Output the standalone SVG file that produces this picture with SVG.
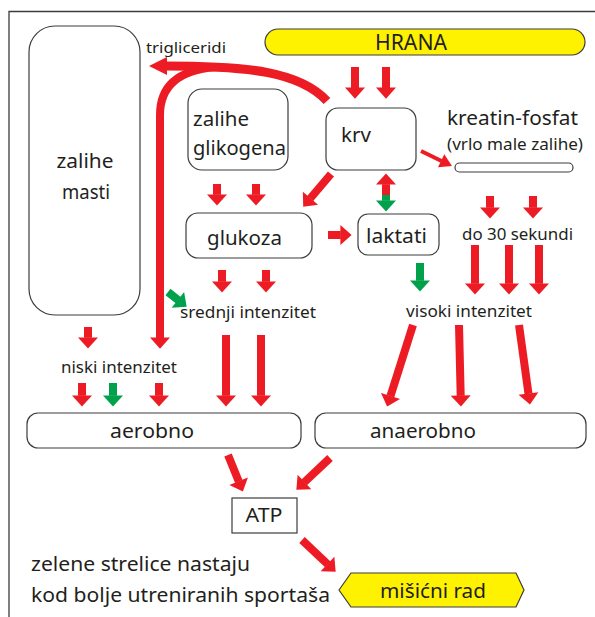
<svg xmlns="http://www.w3.org/2000/svg" width="595" height="617" viewBox="0 0 595 617">
  <style>
    text { font-family: "Noto Sans", "Open Sans", sans-serif; fill: #231f20; }
    .box { fill: #ffffff; stroke: #3c3c3c; stroke-width: 1.2; }
    .yel { fill: #fff200; stroke: #3c3c3c; stroke-width: 1.2; }
    .r { stroke: #ed1c24; fill: none; stroke-width: 8; marker-end: url(#rh); }
    .g { stroke: #00a14b; fill: none; stroke-width: 8; marker-end: url(#gh); }
    .mid { text-anchor: middle; }
  </style>
  <defs>
    <marker id="rh" markerUnits="strokeWidth" markerWidth="1.6" markerHeight="3" refX="0.05" refY="1.5" orient="auto" overflow="visible">
      <path d="M0,0.25 L1.4,1.5 L0,2.75 Z" fill="#ed1c24"/>
    </marker>
    <marker id="gh" markerUnits="strokeWidth" markerWidth="1.6" markerHeight="3" refX="0.05" refY="1.5" orient="auto" overflow="visible">
      <path d="M0,0.25 L1.4,1.5 L0,2.75 Z" fill="#00a14b"/>
    </marker>
    <marker id="rw" markerUnits="strokeWidth" markerWidth="4" markerHeight="4" refX="0.1" refY="2" orient="auto" overflow="visible">
      <path d="M0,0.2 L3,2 L0,3.8 Z" fill="#ed1c24"/>
    </marker>
  </defs>

  <!-- frame -->
  <path d="M9,617 L9,11.5 L595,11.5" fill="none" stroke="#3c3c3c" stroke-width="1.3"/>

  <!-- nodes -->
  <g id="zalihe-masti">
    <rect class="box" x="29" y="26" width="111" height="289" rx="26"/>
    <text class="mid" x="85" y="168" font-size="20" textLength="57" lengthAdjust="spacingAndGlyphs">zalihe</text>
    <text class="mid" x="86" y="199" font-size="20" textLength="48" lengthAdjust="spacingAndGlyphs">masti</text>
  </g>
  <g id="hrana">
    <rect class="yel" x="265" y="29" width="320" height="26" rx="13"/>
    <text class="mid" x="411" y="50" font-size="21" textLength="72" lengthAdjust="spacingAndGlyphs">HRANA</text>
  </g>
  <g id="zalihe-glikogena">
    <rect class="box" x="188" y="89" width="100" height="81" rx="14"/>
    <text x="193" y="126" font-size="20" textLength="56" lengthAdjust="spacingAndGlyphs">zalihe</text>
    <text x="193" y="155" font-size="20" textLength="93" lengthAdjust="spacingAndGlyphs">glikogena</text>
  </g>
  <g id="krv">
    <rect class="box" x="326" y="108" width="90" height="62" rx="12"/>
    <text x="341" y="142" font-size="20" textLength="30" lengthAdjust="spacingAndGlyphs">krv</text>
  </g>
  <g id="kreatin-fosfat">
    <text x="447" y="125" font-size="20" textLength="131" lengthAdjust="spacingAndGlyphs">kreatin-fosfat</text>
    <text x="447" y="150" font-size="16" textLength="136" lengthAdjust="spacingAndGlyphs">(vrlo male zalihe)</text>
    <rect class="box" x="455" y="163" width="118" height="9" rx="4.5"/>
  </g>
  <g id="glukoza">
    <rect class="box" x="186" y="213" width="126" height="45" rx="12"/>
    <text x="207" y="245" font-size="20" textLength="75" lengthAdjust="spacingAndGlyphs">glukoza</text>
  </g>
  <g id="laktati">
    <rect class="box" x="358" y="214" width="81" height="41" rx="10"/>
    <text x="366" y="243" font-size="20" textLength="61" lengthAdjust="spacingAndGlyphs">laktati</text>
  </g>
  <g id="do-30-sekundi">
    <text x="462" y="240" font-size="16.5" textLength="111" lengthAdjust="spacingAndGlyphs">do 30 sekundi</text>
  </g>
  <g id="srednji-intenzitet">
    <text x="180" y="318" font-size="16.5" textLength="136" lengthAdjust="spacingAndGlyphs">srednji intenzitet</text>
  </g>
  <g id="visoki-intenzitet">
    <text x="406" y="317" font-size="16.5" textLength="126" lengthAdjust="spacingAndGlyphs">visoki intenzitet</text>
  </g>
  <g id="niski-intenzitet">
    <text x="61" y="373" font-size="16.5" textLength="116" lengthAdjust="spacingAndGlyphs">niski intenzitet</text>
  </g>
  <g id="trigliceridi">
    <text x="146" y="53" font-size="15" textLength="80" lengthAdjust="spacingAndGlyphs">trigliceridi</text>
  </g>
  <g id="aerobno">
    <rect class="box" x="27" y="413" width="274" height="35" rx="11"/>
    <text class="mid" x="152" y="438" font-size="19.5" textLength="84" lengthAdjust="spacingAndGlyphs">aerobno</text>
  </g>
  <g id="anaerobno">
    <rect class="box" x="315" y="413" width="271" height="35" rx="11"/>
    <text class="mid" x="423" y="438" font-size="19.5" textLength="106" lengthAdjust="spacingAndGlyphs">anaerobno</text>
  </g>
  <g id="atp">
    <rect class="box" x="232" y="498" width="65" height="35"/>
    <text class="mid" x="264" y="522" font-size="19" textLength="37" lengthAdjust="spacingAndGlyphs">ATP</text>
  </g>
  <g id="misicni-rad">
    <polygon class="yel" points="339,590 351,573 516,573 524,590 516,607 351,607"/>
    <text class="mid" x="433" y="598" font-size="19.5" textLength="106" lengthAdjust="spacingAndGlyphs">mišićni rad</text>
  </g>
  <g id="legenda">
    <text x="31" y="571" font-size="19" textLength="219" lengthAdjust="spacingAndGlyphs">zelene strelice nastaju</text>
    <text x="31" y="602" font-size="19" textLength="299" lengthAdjust="spacingAndGlyphs">kod bolje utreniranih sportaša</text>
  </g>

  <!-- connectors -->
  <g id="connectors">
    <!-- krv back to fat stores -->
    <path d="M327,101 C300,72 250,66 166,66" fill="none" stroke="#ed1c24" stroke-width="9"/>
    <polygon points="167,57 149,66 167,75" fill="#ed1c24"/>
    <path d="M215,67 C180,70 160,85 160,115 L160,338" class="r" stroke-width="7"/>

    <line class="r" x1="355" y1="67" x2="355" y2="88"/>
    <line class="r" x1="386" y1="67" x2="386" y2="88"/>
    <line class="r" x1="331" y1="174" x2="310.2" y2="198.5"/>
    <line stroke="#ed1c24" stroke-width="4" marker-end="url(#rw)" x1="421" y1="151" x2="441.5" y2="161"/>

    <line class="r" x1="386" y1="196" x2="386" y2="184.2"/>
    <line class="g" x1="386" y1="195" x2="386" y2="200.8"/>

    <line class="r" x1="217" y1="184" x2="217" y2="194.8"/>
    <line class="r" x1="256" y1="184" x2="256" y2="194.8"/>
    <line class="r" x1="328" y1="235" x2="340.8" y2="235"/>
    <line class="g" x1="420" y1="263" x2="420" y2="280.8"/>

    <line class="r" x1="490" y1="196" x2="490" y2="207.8"/>
    <line class="r" x1="533" y1="196" x2="533" y2="207.8"/>
    <line class="r" x1="475" y1="245" x2="475" y2="283.8"/>
    <line class="r" x1="509" y1="245" x2="509" y2="283.8"/>
    <line class="r" x1="539" y1="245" x2="539" y2="283.8"/>

    <line class="r" x1="413" y1="325" x2="390.4" y2="396.3"/>
    <line class="r" x1="459" y1="325" x2="460.7" y2="395.8"/>
    <line class="r" x1="519" y1="325" x2="528.5" y2="393.9"/>

    <line class="r" x1="222" y1="270" x2="222" y2="281.8"/>
    <line class="r" x1="266" y1="270" x2="266" y2="281.8"/>
    <line class="r" x1="226" y1="335" x2="226" y2="395.8"/>
    <line class="r" x1="261" y1="335" x2="261" y2="395.8"/>
    <line class="g" x1="168" y1="292" x2="178.2" y2="300.1"/>

    <line class="r" x1="88" y1="327" x2="88" y2="337.8"/>
    <line class="r" x1="82" y1="383" x2="82" y2="395.8"/>
    <line class="g" x1="113" y1="383" x2="113" y2="395.8"/>
    <line class="r" x1="159" y1="383" x2="159" y2="395.8"/>

    <line class="r" x1="228" y1="455" x2="238.8" y2="481.6"/>
    <line class="r" x1="330" y1="458" x2="304.2" y2="482.3"/>
    <line class="r" x1="302" y1="540" x2="327.8" y2="564.3"/>
  </g>
</svg>
